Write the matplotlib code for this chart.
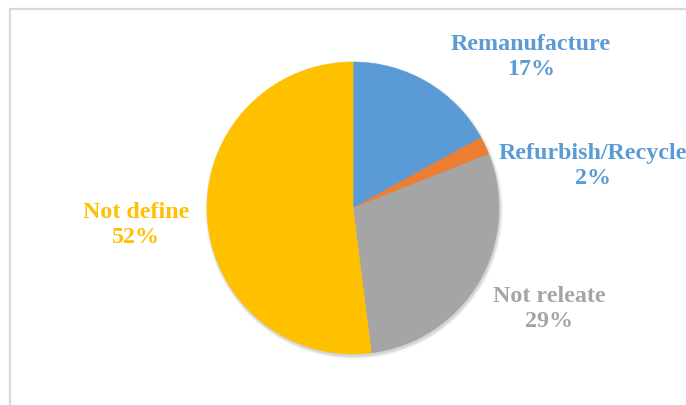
import matplotlib
matplotlib.use("Agg")
import matplotlib.pyplot as plt
from matplotlib.patches import Circle

categories = ["Remanufacture", "Refurbish/Recycle", "Not releate", "Not define"]
shares = [17, 2, 29, 52]
slice_colors = ["#5B9BD5", "#ED7D31", "#A5A5A5", "#FFC000"]
label_colors = ["#5B9BD5", "#5B9BD5", "#A5A5A5", "#FFC000"]

# label anchor points (pixel space, y measured upward)
label_xy = [(531, 349), (593, 240), (549, 97), (136, 181)]

W, H = 686, 406
CX, CY, R = 353, 197, 146
fig = plt.figure(figsize=(W / 100, H / 100), dpi=100)
ax = fig.add_axes([0, 0, 1, 1])

# soft drop shadow under the pie
for k, a in enumerate([0.05, 0.05, 0.04, 0.03]):
    ax.add_patch(Circle((CX + 1, CY - 2), R + 0.5 + k * 0.8,
                        facecolor="black", edgecolor="none", alpha=a,
                        zorder=0))

wedges, _ = ax.pie(shares, colors=slice_colors, startangle=90,
                   counterclock=False, center=(CX, CY), radius=R,
                   wedgeprops=dict(linewidth=0.4, edgecolor="white"))
for w, c in zip(wedges, slice_colors):
    w.set_edgecolor(c)
    w.set_zorder(2)

ax.set_xlim(0, W)
ax.set_ylim(0, H)
ax.set_aspect("equal")
ax.axis("off")

# chart-area frame (only left and top edges fall inside the image)
ax.plot([9.5, 9.5, W + 5], [-5, H - 9.5, H - 9.5], color="#D9D9D9",
        lw=1.6, solid_capstyle="butt", solid_joinstyle="miter")

for name, val, col, (x, y) in zip(categories, shares, label_colors, label_xy):
    ax.text(x, y, f"{name}\n{val}%", ha="center", va="center",
            color=col, fontsize=17.3, fontweight="bold",
            family="Liberation Serif", linespacing=1.3)

fig.savefig("out.png", dpi=100)
